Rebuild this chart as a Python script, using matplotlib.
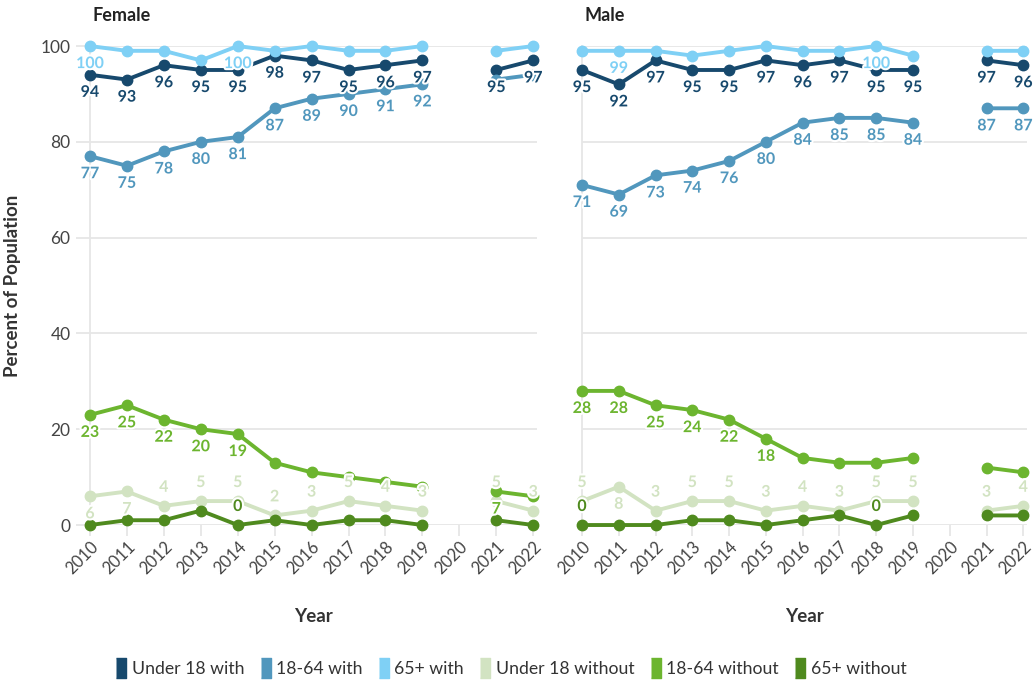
import matplotlib
matplotlib.use("Agg")
import matplotlib.pyplot as plt
import matplotlib.patheffects as pe
import numpy as np

plt.rcParams['font.family'] = ['Lato', 'DejaVu Sans']

# data
years = [2010, 2011, 2012, 2013, 2014, 2015, 2016, 2017, 2018, 2019, 2020, 2021, 2022]
series_names = ["Under 18 with", "18-64 with", "65+ with",
                "Under 18 without", "18-64 without", "65+ without"]
nan = np.nan

female_u18_with = [94, 93, 96, 95, 95, 98, 97, 95, 96, 97, nan, 95, 97]
female_1864_with = [77, 75, 78, 80, 81, 87, 89, 90, 91, 92, nan, 93, 94]
female_65_with = [100, 99, 99, 97, 100, 99, 100, 99, 99, 100, nan, 99, 100]
female_u18_without = [6, 7, 4, 5, 5, 2, 3, 5, 4, 3, nan, 5, 3]
female_1864_without = [23, 25, 22, 20, 19, 13, 11, 10, 9, 8, nan, 7, 6]
female_65_without = [0, 1, 1, 3, 0, 1, 0, 1, 1, 0, nan, 1, 0]

male_u18_with = [95, 92, 97, 95, 95, 97, 96, 97, 95, 95, nan, 97, 96]
male_1864_with = [71, 69, 73, 74, 76, 80, 84, 85, 85, 84, nan, 87, 87]
male_65_with = [99, 99, 99, 98, 99, 100, 99, 99, 100, 98, nan, 99, 99]
male_u18_without = [5, 8, 3, 5, 5, 3, 4, 3, 5, 5, nan, 3, 4]
male_1864_without = [28, 28, 25, 24, 22, 18, 14, 13, 13, 14, nan, 12, 11]
male_65_without = [0, 0, 0, 1, 1, 0, 1, 2, 0, 2, nan, 2, 2]

# where the value labels go: 'b' below, 'a' above, '' none
female_lab_u18_with = ['b'] * 10 + [''] + ['b', 'b']
female_lab_1864_with = ['b'] * 10 + ['', '', '']
female_lab_65_with = ['b', '', '', '', 'b', '', '', '', '', '', '', '', '']
female_lab_u18_without = ['b', 'b', 'a', 'a', 'a', 'a', 'a', 'a', 'a', 'a', '', 'a', 'a']
female_lab_1864_without = ['b'] * 5 + [''] * 6 + ['b', '']
female_lab_65_without = ['', '', '', '', 'a', '', '', '', '', '', '', '', '']

male_lab_u18_with = ['b'] * 10 + [''] + ['b', 'b']
male_lab_1864_with = ['b'] * 10 + [''] + ['b', 'b']
male_lab_65_with = ['', 'b', '', '', '', '', '', '', 'b', '', '', '', '']
male_lab_u18_without = ['a', 'b', 'a', 'a', 'a', 'a', 'a', 'a', 'a', 'a', '', 'a', 'a']
male_lab_1864_without = ['b'] * 6 + [''] * 7
male_lab_65_without = ['a', '', '', '', '', '', '', '', 'a', '', '', '', '']

kleuren = ["#17496d", "#5197bd", "#7fd0f5", "#d2e3c2", "#6cb52f", "#4f8a1e"]

panels = [
    ("Female",
     [female_u18_with, female_1864_with, female_65_with,
      female_u18_without, female_1864_without, female_65_without],
     [female_lab_u18_with, female_lab_1864_with, female_lab_65_with,
      female_lab_u18_without, female_lab_1864_without, female_lab_65_without]),
    ("Male",
     [male_u18_with, male_1864_with, male_65_with,
      male_u18_without, male_1864_without, male_65_without],
     [male_lab_u18_with, male_lab_1864_with, male_lab_65_with,
      male_lab_u18_without, male_lab_1864_without, male_lab_65_without]),
]

fig = plt.figure(figsize=(10.33, 6.83), dpi=100)
ax_pos = [[0.0871, 0.2313, 0.4327, 0.7013],
          [0.5634, 0.2313, 0.4308, 0.7013]]

grid_kleur = "#e6e6e6"
for p, (titel, reeksen, labels) in enumerate(panels):
    ax = fig.add_axes(ax_pos[p])
    for i, (waarden, plek) in enumerate(zip(reeksen, labels)):
        ax.plot(years, waarden, color=kleuren[i], lw=2.8, marker='o',
                markersize=7.5, clip_on=False, zorder=3 + i * 0.1)
        for x, y, w in zip(years, waarden, plek):
            if w == '' or np.isnan(y):
                continue
            dy = -13 if w == 'b' else 13
            ax.annotate("%d" % y, (x, y), xytext=(0, dy), textcoords='offset points',
                        ha='center', va='center', fontsize=11.5, fontweight='bold',
                        color=kleuren[i], zorder=10,
                        path_effects=[pe.withStroke(linewidth=3, foreground='white')])

    ax.set_xlim(2010, 2022.1)
    ax.set_ylim(0, 100)
    ax.set_yticks([0, 20, 40, 60, 80, 100])
    ax.set_xticks(years)
    ax.set_xticklabels([str(j) for j in years], rotation=45, ha='right',
                       rotation_mode='anchor', fontsize=12, color="#444444")
    ax.grid(axis='y', color=grid_kleur, lw=1.3, zorder=0)
    ax.set_axisbelow(True)
    for s in ['top', 'right', 'bottom']:
        ax.spines[s].set_visible(False)
    ax.spines['left'].set_color(grid_kleur)
    ax.spines['left'].set_linewidth(1.3)
    ax.tick_params(axis='x', length=8, color=grid_kleur, width=1.3, pad=2)
    if p == 0:
        ax.tick_params(axis='y', length=10, color=grid_kleur, width=1.3,
                       labelsize=12.5, labelcolor="#444444", pad=4)
        ax.set_ylabel("Percent of Population", fontsize=13.5, fontweight='bold',
                      color="#333333")
        ax.yaxis.set_label_coords(-0.155, 0.5)
    else:
        ax.tick_params(axis='y', length=0, labelleft=False)
    ax.set_xlabel("Year", fontsize=13.5, fontweight='bold', color="#333333", labelpad=22)
    ax.text(0.005, 1.045, titel, transform=ax.transAxes, fontsize=13,
            fontweight='bold', color="#222222", va='bottom', ha='left')

blok = [(-0.5, -1), (0.5, -1), (0.5, 1), (-0.5, 1)]
fig.legend(handles=[plt.Line2D([], [], ls='', marker=blok, markersize=14,
                               color=c) for c in kleuren],
           labels=series_names, loc='center', bbox_to_anchor=(0.494, 0.02),
           ncol=6, frameon=False, fontsize=12.7, handletextpad=0.2,
           columnspacing=0.8, handlelength=0.8, labelcolor="#333333")

fig.savefig("out.png", dpi=100)
